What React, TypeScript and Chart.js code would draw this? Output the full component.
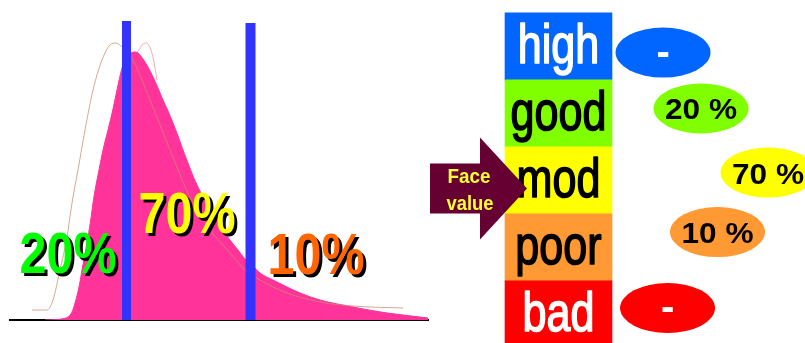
import React, { useEffect, useRef } from 'react';
import { Chart, registerables } from 'chart.js';

Chart.register(...registerables);

// ---------- Left panel: distribution of scores ----------
const scoreX = [45, 58, 64, 68, 72, 75, 79, 82, 85, 88, 91, 93, 96, 98, 103, 108, 113, 117, 122, 126, 130, 134, 138, 143, 148, 153, 158, 163, 168, 173, 178, 183, 188, 193, 198, 203, 210, 217, 223, 230, 238, 245, 252, 260, 273, 287, 300, 320, 353, 387, 420, 428];
const observedFreq = [0, 0.5, 1.5, 3, 8, 17, 33, 50, 66, 83, 102, 117, 135, 145, 170, 190, 211, 230, 252, 261, 266, 268, 267, 261, 253, 243, 232, 220, 209, 197, 184, 170, 157, 144, 133, 123, 111, 100, 90, 80, 70, 61, 55, 47, 40, 33, 27, 20, 13, 7, 3, 2];

const refX = [32, 47, 53, 60, 67, 72, 78, 85, 93, 102, 110, 116, 122, 133, 150, 170, 188, 210, 230, 243, 260, 287, 320, 353, 403];
const refFreq = [10, 10, 20, 50, 83, 117, 150, 190, 230, 260, 275, 277, 273, 260, 220, 170, 127, 90, 67, 52, 40, 27, 18, 14, 12];

const ghostX = [133, 139, 142, 145, 148, 151, 154, 157];
const ghostFreq = [262, 270, 275, 277, 276, 270, 258, 240];

const cutoffScore = [126.5, 250.5];
const cutoffTop = [299, 297];

const shareLabels = ['20%', '70%', '10%'];
const shareColors = ['#00ff00', '#ffff00', '#ff6600'];

// ---------- Right panel: face-value grades ----------
const grades = ['high', 'good', 'mod', 'poor', 'bad'];
const gradeColors = ['#0066ff', '#80ff00', '#ffff00', '#ff9933', '#ff0000'];
const gradeTextColors = ['#ffffff', '#000000', '#000000', '#000000', '#ffffff'];
const gradeShare = ['-', '20 %', '70 %', '10 %', '-'];
const ovalFaceX = [1.477, 1.832, 2.458, 1.986, 1.519];
const ovalRowY = [0.59, 1.425, 2.381, 3.269, 4.403];

const FONT = '"Liberation Sans", Arial, sans-serif';
const RIGHT_H = 343;
const Y_MIN = -0.194;
const Y_MAX = 4.925;
const ROW_PX = RIGHT_H / (Y_MAX - Y_MIN);

function drawText(
  ctx: CanvasRenderingContext2D,
  text: string,
  cx: number,
  baseline: number,
  font: string,
  width: number | null,
  color: string,
  shadow = 0,
  squeeze = 1,
  embolden = 0
) {
  ctx.save();
  ctx.font = font;
  ctx.textAlign = 'center';
  ctx.textBaseline = 'alphabetic';
  const w = ctx.measureText(text).width;
  const sx = width ? width / w : squeeze;
  ctx.translate(cx, baseline);
  ctx.scale(sx, 1);
  if (shadow) {
    ctx.fillStyle = '#000000';
    ctx.fillText(text, shadow / sx, shadow);
  }
  ctx.fillStyle = color;
  ctx.fillText(text, 0, 0);
  if (embolden) {
    ctx.strokeStyle = color;
    ctx.lineWidth = embolden;
    ctx.lineJoin = 'round';
    ctx.strokeText(text, 0, 0);
  }
  ctx.restore();
}

export default function App() {
  const leftRef = useRef<HTMLCanvasElement>(null);
  const rightRef = useRef<HTMLCanvasElement>(null);

  useEffect(() => {
    const charts: Chart[] = [];
    const pts = (xs: number[], ys: number[]) => xs.map((x, i) => ({ x, y: ys[i] }));

    // ---- left chart ----
    const shareLabelPlugin = {
      id: 'shareLabels',
      afterDatasetsDraw(chart: any, _args: any, opts: any) {
        const { ctx } = chart;
        const xs = chart.scales.x;
        const ys = chart.scales.y;
        opts.anchors.forEach((a: number[], i: number) => {
          drawText(
            ctx,
            shareLabels[i],
            xs.getPixelForValue(a[0]),
            ys.getPixelForValue(a[1]),
            `bold 58px ${FONT}`,
            97,
            shareColors[i],
            3
          );
        });
      },
    };

    if (leftRef.current) {
      const datasets: any[] = [
        {
          data: pts(ghostX, ghostFreq),
          showLine: true,
          borderColor: 'rgba(240,165,165,0.9)',
          borderWidth: 1,
          pointRadius: 0,
          cubicInterpolationMode: 'monotone',
          order: 5,
        },
        {
          data: pts(scoreX, observedFreq),
          showLine: true,
          fill: 'origin',
          backgroundColor: '#ff3399',
          borderColor: '#ff3399',
          borderWidth: 1,
          pointRadius: 0,
          cubicInterpolationMode: 'monotone',
          order: 4,
        },
        {
          data: pts(refX, refFreq),
          showLine: true,
          borderColor: 'rgba(200,140,110,0.75)',
          borderWidth: 1,
          pointRadius: 0,
          cubicInterpolationMode: 'monotone',
          order: 3,
        },
        ...cutoffScore.map((c, i) => ({
          data: [
            { x: c, y: 0 },
            { x: c, y: cutoffTop[i] },
          ],
          showLine: true,
          borderColor: '#3333ff',
          borderWidth: i === 0 ? 9 : 10,
          borderCapStyle: 'butt',
          pointRadius: 0,
          order: 1,
        })),
      ];
      charts.push(
        new Chart(leftRef.current, {
          type: 'scatter',
          data: { datasets },
          options: {
            animation: false,
            responsive: false,
            events: [],
            layout: { padding: { left: 10, right: 12, top: 0, bottom: 23 } },
            plugins: {
              legend: { display: false },
              tooltip: { enabled: false },
              shareLabels: { anchors: [[68, 47], [187, 87], [316, 46]] },
            } as any,
            scales: {
              x: {
                type: 'linear',
                min: 10,
                max: 428,
                display: true,
                z: 1,
                grid: { display: false, drawTicks: false },
                ticks: { display: false },
                border: { display: true, color: '#000000', width: 2 },
              },
              y: { type: 'linear', min: 0, max: 320, display: false },
            },
          },
          plugins: [shareLabelPlugin],
        } as any)
      );
    }

    // ---- right chart ----
    const gradePlugin = {
      id: 'gradeDecor',
      afterDatasetsDraw(chart: any) {
        const { ctx } = chart;
        const bars = chart.getDatasetMeta(0).data;
        bars.forEach((bar: any, i: number) => {
          const cx = (bar.x + bar.base) / 2;
          drawText(ctx, grades[i], cx, bar.y + 16, `56px ${FONT}`, null, gradeTextColors[i], 0, 0.77, 1.6);
        });
        // arrow "Face value" pointing at the 'mod' row
        const mod: any = bars[2];
        const tipX = Math.min(mod.x, mod.base) + 22;
        const cy = mod.y + 8;
        const left = tipX - 97;
        const neck = tipX - 47;
        ctx.save();
        ctx.beginPath();
        ctx.moveTo(left, cy - 25);
        ctx.lineTo(neck, cy - 25);
        ctx.lineTo(neck, cy - 51);
        ctx.lineTo(tipX, cy);
        ctx.lineTo(neck, cy + 51);
        ctx.lineTo(neck, cy + 25);
        ctx.lineTo(left, cy + 25);
        ctx.closePath();
        ctx.fillStyle = '#660033';
        ctx.fill();
        ctx.restore();
        drawText(ctx, 'Face', tipX - 58, cy - 6, `bold 21px ${FONT}`, 43, '#ffff33');
        drawText(ctx, 'value', tipX - 57, cy + 21, `bold 21px ${FONT}`, 47, '#ffff33');

        // ovals with shares
        const ovals = chart.getDatasetMeta(1).data;
        ovals.forEach((p: any, i: number) => {
          ctx.save();
          ctx.beginPath();
          ctx.ellipse(p.x, p.y, 47.5, 25, 0, 0, Math.PI * 2);
          ctx.fillStyle = gradeColors[i];
          ctx.fill();
          ctx.restore();
          const t = gradeShare[i];
          if (t === '-') {
            drawText(ctx, t, p.x, p.y + 12, `bold 40px ${FONT}`, null, gradeTextColors[i]);
          } else {
            drawText(ctx, t, p.x, p.y + 11, `bold 30px ${FONT}`, 72, gradeTextColors[i]);
          }
        });
      },
    };

    if (rightRef.current) {
      charts.push(
        new Chart(rightRef.current, {
          type: 'bar',
          data: {
            datasets: [
              {
                type: 'bar',
                indexAxis: 'y',
                data: grades.map((_g, i) => ({ x: [0, 1], y: i + 0.5 })),
                backgroundColor: gradeColors,
                borderWidth: 0,
                barThickness: ROW_PX + 0.5,
                order: 2,
              },
              {
                type: 'scatter',
                data: pts(ovalFaceX, ovalRowY),
                pointRadius: 0,
                order: 1,
              },
            ],
          },
          options: {
            animation: false,
            responsive: false,
            events: [],
            layout: { padding: 0 },
            plugins: { legend: { display: false }, tooltip: { enabled: false } },
            scales: {
              x: {
                type: 'linear',
                min: -0.7477,
                max: 2.8037,
                offset: false,
                display: false,
                grid: { offset: false },
              },
              y: {
                type: 'linear',
                min: Y_MIN,
                max: Y_MAX,
                reverse: true,
                offset: false,
                display: false,
                grid: { offset: false },
              },
            },
          },
          plugins: [gradePlugin],
        } as any)
      );
    }

    return () => charts.forEach((c) => c.destroy());
  }, []);

  return (
    <div
      style={{
        position: 'absolute',
        left: 0,
        top: 0,
        width: 805,
        height: 343,
        background: '#ffffff',
        overflow: 'hidden',
      }}
    >
      <canvas
        ref={leftRef}
        width={440}
        height={343}
        style={{ position: 'absolute', left: 0, top: 0, width: 440, height: 343 }}
      />
      <canvas
        ref={rightRef}
        width={380}
        height={RIGHT_H}
        style={{ position: 'absolute', left: 425, top: 0, width: 380, height: RIGHT_H }}
      />
    </div>
  );
}
